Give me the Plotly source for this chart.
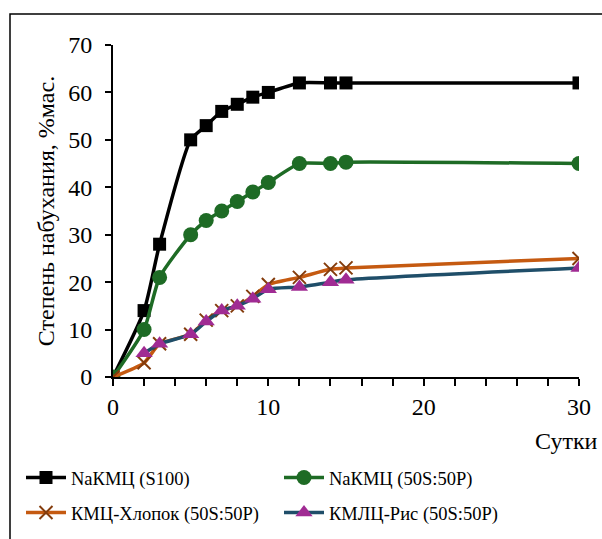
import plotly.graph_objects as go

days = [0, 2, 3, 5, 6, 7, 8, 9, 10, 12, 14, 15, 30]
days_ris = [2, 3, 5, 6, 7, 8, 9, 10, 12, 14, 15, 30]

s100 = [0, 14, 28, 50, 53, 56, 57.5, 59, 60, 62, 62, 62, 62]
na_50 = [0, 10, 21, 30, 33, 35, 37, 39, 41, 45, 45, 45.3, 45]
hlopok = [0, 3, 7, 9, 12, 14, 15, 17, 19.5, 21, 22.7, 23, 25]
ris = [5, 7, 9, 11.7, 14, 15, 16.5, 18.5, 19, 20, 20.5, 23]

names = ["NaКМЦ (S100)", "NaКМЦ (50S:50P)", "КМЦ-Хлопок (50S:50P)", "КМЛЦ-Рис (50S:50P)"]

FONT = "Liberation Serif, Times New Roman, serif"

fig = go.Figure()
fig.add_trace(go.Scatter(x=days, y=s100, name=names[0], mode="lines+markers", legend="legend",
                         line=dict(color="#000000", width=3.5, shape="spline", smoothing=0.6),
                         marker=dict(symbol="square", size=13, color="#000000")))
fig.add_trace(go.Scatter(x=days, y=na_50, name=names[1], mode="lines+markers", legend="legend",
                         line=dict(color="#1e6b25", width=3.5, shape="spline", smoothing=0.6),
                         marker=dict(symbol="circle", size=15, color="#1e6b25")))
fig.add_trace(go.Scatter(x=days, y=hlopok, name=names[2], mode="lines+markers", legend="legend2",
                         line=dict(color="#c55a11", width=3.5, shape="spline", smoothing=0.6),
                         marker=dict(symbol="x-thin", size=13, color="#843c0c",
                                     line=dict(color="#843c0c", width=2))))
fig.add_trace(go.Scatter(x=days_ris, y=ris, name=names[3], mode="lines+markers", legend="legend2",
                         line=dict(color="#1f4e69", width=3.5, shape="spline", smoothing=0.6),
                         marker=dict(symbol="triangle-up", size=15, color="#a02b93")))

leg_common = dict(orientation="h", xref="paper", yref="paper",
                  x=(21 - 113) / 466, xanchor="left", yanchor="top",
                  entrywidth=203, entrywidthmode="pixels",
                  font=dict(family=FONT, size=18.5, color="#000000"),
                  itemwidth=40, bgcolor="rgba(0,0,0,0)")

fig.update_layout(
    width=602, height=539,
    margin=dict(l=113, r=23, t=45, b=162, autoexpand=False),
    paper_bgcolor="white", plot_bgcolor="white",
    font=dict(family=FONT, size=22, color="#000000"),
    showlegend=True,
    legend=dict(leg_common, y=(377 - 459) / 332),
    legend2=dict(leg_common, y=(377 - 494) / 332),
    xaxis=dict(range=[0, 30], tickvals=[0, 10, 20, 30], showgrid=False, zeroline=False,
               showline=True, linecolor="#000000", linewidth=2,
               ticks="outside", ticklen=7, tickwidth=2, tickcolor="#000000",
               tickfont=dict(family=FONT, size=24, color="#000000"),
               minor=dict(dtick=2, ticks="outside", ticklen=7, tickwidth=2, tickcolor="#000000", showgrid=False)),
    yaxis=dict(range=[0, 70], dtick=10, showgrid=False, zeroline=False,
               showline=True, linecolor="#000000", linewidth=2,
               ticks="outside", ticklen=6, tickwidth=2, tickcolor="#000000",
               ticklabelstandoff=8,
               tickfont=dict(family=FONT, size=24, color="#000000"),
               title=dict(text="Степень набухания, %мас.",
                          font=dict(family=FONT, size=24, color="#000000"), standoff=7)),
)

fig.add_annotation(text="Сутки", xref="paper", yref="paper", x=1.045, y=-0.148,
                   xanchor="right", yanchor="top", showarrow=False,
                   font=dict(family=FONT, size=24, color="#000000"))

fig.add_shape(type="rect", xref="paper", yref="paper",
              x0=(10 - 113) / 466, x1=1.2, y0=-0.7, y1=(377 - 14) / 332,
              line=dict(color="#000000", width=1.5), fillcolor="rgba(0,0,0,0)", layer="below")

fig.write_html("out.html")
